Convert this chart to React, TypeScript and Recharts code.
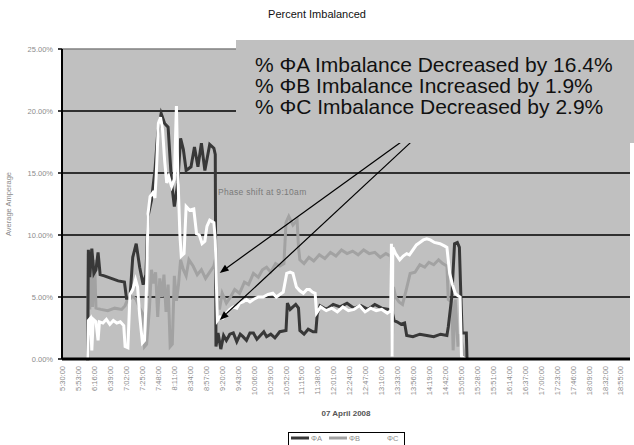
import { CartesianGrid, Line, LineChart, ReferenceLine, XAxis, YAxis } from 'recharts'

// x = minutes after midnight, y = percent imbalance
const tickLabels = [
  '5:30:00', '5:53:00', '6:16:00', '6:39:00', '7:02:00', '7:25:00', '7:48:00', '8:11:00', '8:34:00',
  '8:57:00', '9:20:00', '9:43:00', '10:06:00', '10:29:00', '10:52:00', '11:15:00', '11:38:00', '12:01:00',
  '12:24:00', '12:47:00', '13:10:00', '13:33:00', '13:56:00', '14:19:00', '14:42:00', '15:05:00', '15:28:00',
  '15:51:00', '16:14:00', '16:37:00', '17:00:00', '17:23:00', '17:46:00', '18:09:00', '18:32:00', '18:55:00',
]
const yTicks = [0, 5, 10, 15, 20, 25]
const gridValues = [5, 10, 15, 20]

const phaseA: [number, number][] = [
  [364, 0], [366, 0], [367, 8.8], [369, 6.6], [372, 8.9], [375, 6.9], [378, 7.2], [381, 8.6], [384, 6.8],
  [390, 6.7], [400, 6.5], [410, 6.3], [419, 6.2], [422, 4.9], [427, 4.9], [431, 8.2], [436, 9.3], [441, 7.4],
  [446, 6.0], [450, 6.8], [453, 11.5], [458, 12.8], [463, 15.2], [467, 18.2], [472, 19.8], [477, 19.0],
  [482, 18.7], [487, 14.2], [491, 12.3], [496, 14.2], [500, 17.8], [504, 16.9], [508, 15.2], [515, 15.5],
  [520, 17.1], [525, 15.5], [530, 17.4], [535, 15.2], [542, 17.3], [548, 17.0], [550, 16.5], [551, 1.0],
  [554, 2.1], [558, 0.8], [562, 1.9], [566, 1.5], [571, 2.0], [576, 2.1], [581, 1.4], [586, 2.0], [590, 1.8],
  [595, 1.5], [600, 2.1], [605, 2.1], [610, 1.6], [615, 1.9], [620, 2.2], [624, 1.8], [630, 2.0], [636, 1.7],
  [643, 2.2], [652, 2.3], [654, 4.5], [658, 4.0], [662, 4.2], [666, 4.4], [670, 4.1], [672, 2.3], [678, 2.0],
  [684, 2.4], [691, 2.2], [695, 2.2], [697, 3.6], [701, 4.3], [710, 4.0], [720, 4.4], [730, 4.2], [740, 4.5],
  [750, 4.1], [760, 4.3], [770, 4.0], [780, 4.4], [790, 4.1], [800, 4.0], [805, 3.8], [808, 3.1], [812, 3.0],
  [818, 2.8], [823, 2.9], [826, 1.9], [835, 1.8], [845, 2.0], [855, 1.9], [865, 1.8], [875, 2.0], [884, 1.9],
  [886, 2.6], [891, 5.0], [895, 9.3], [899, 9.4], [902, 9.0], [904, 5.3], [906, 2.1], [912, 2.1], [913, 0],
]

const phaseB: [number, number][] = [
  [364, 0], [366, 0], [367, 8.5], [369, 4.0], [371, 8.8], [373, 4.2], [376, 8.0], [378, 4.1], [385, 4.0],
  [395, 3.9], [405, 4.1], [415, 4.0], [420, 4.3], [425, 5.0], [432, 5.0], [436, 4.8], [440, 4.2], [445, 3.7],
  [448, 1.0], [451, 1.2], [455, 4.0], [458, 7.2], [461, 6.1], [464, 7.0], [467, 3.4], [470, 6.5], [473, 5.0],
  [476, 6.8], [479, 3.8], [482, 6.0], [485, 1.0], [488, 1.2], [491, 6.7], [494, 4.7], [497, 6.0], [500, 8.0],
  [504, 7.2], [508, 6.7], [512, 8.0], [518, 7.5], [524, 6.8], [530, 7.2], [536, 6.5], [542, 7.0], [548, 7.5],
  [550, 8.0], [552, 5.0], [556, 4.0], [560, 5.3], [566, 4.5], [572, 5.0], [578, 5.6], [585, 5.3], [592, 6.2],
  [598, 6.0], [605, 6.9], [612, 6.6], [618, 7.2], [624, 7.4], [630, 7.0], [637, 7.7], [643, 7.5], [649, 7.7],
  [652, 11.0], [656, 11.5], [662, 10.8], [668, 11.2], [670, 9.0], [672, 8.0], [678, 7.7], [685, 8.2],
  [692, 7.9], [700, 8.4], [708, 8.1], [716, 8.6], [724, 8.3], [732, 8.8], [740, 8.5], [748, 8.7], [756, 8.4],
  [764, 8.8], [772, 8.5], [780, 8.6], [788, 8.2], [796, 8.5], [803, 8.3], [805, 0.3], [807, 5.8], [810, 5.0],
  [815, 4.6], [820, 4.4], [825, 5.5], [831, 6.9], [838, 7.0], [845, 7.6], [852, 7.4], [858, 7.8], [865, 7.6],
  [872, 8.0], [878, 7.7], [884, 7.5], [886, 4.8], [891, 4.6], [893, 0.7], [896, 4.8], [900, 1.0], [903, 2.0],
  [908, 0.6], [910, 0],
]

const phaseC: [number, number][] = [
  [364, 0], [366, 0], [367, 3.1], [370, 3.3], [372, 0.7], [374, 3.2], [378, 3.0], [381, 1.5], [383, 3.0],
  [388, 2.9], [393, 3.2], [398, 2.8], [403, 3.1], [408, 2.9], [413, 3.0], [418, 2.7], [420, 1.0], [424, 0.9],
  [427, 5.2], [431, 5.6], [435, 6.4], [438, 5.8], [441, 3.5], [445, 1.3], [448, 1.5], [451, 6.0], [453, 11.7],
  [456, 13.1], [460, 13.4], [463, 13.0], [465, 15.0], [468, 19.0], [471, 19.5], [474, 18.5], [477, 16.0],
  [480, 14.2], [483, 14.7], [487, 13.9], [491, 14.5], [494, 20.4], [496, 15.0], [499, 10.0], [501, 8.3],
  [505, 8.5], [508, 12.3], [513, 12.0], [519, 12.1], [523, 10.1], [527, 10.0], [531, 9.3], [535, 9.5],
  [538, 10.7], [542, 11.2], [548, 11.0], [550, 9.6], [551, 7.4], [553, 3.1], [557, 3.4], [561, 3.3],
  [566, 3.7], [571, 4.0], [576, 4.2], [581, 4.1], [585, 4.5], [590, 4.6], [595, 4.8], [600, 4.6], [605, 4.8],
  [612, 5.0], [619, 5.0], [626, 5.2], [633, 5.3], [638, 5.0], [643, 5.2], [648, 5.4], [653, 6.9], [658, 7.0],
  [662, 6.9], [667, 5.8], [672, 5.5], [677, 5.3], [682, 5.6], [686, 5.6], [690, 5.4], [694, 5.3], [696, 3.7],
  [702, 4.2], [710, 3.9], [718, 4.1], [726, 3.8], [734, 4.2], [742, 3.9], [750, 4.0], [758, 4.3], [766, 3.8],
  [774, 4.1], [782, 3.9], [790, 4.0], [798, 3.7], [803, 3.9], [804, 9.3], [805, 0.2], [806, 9.0], [810, 8.5],
  [816, 8.0], [821, 8.3], [826, 8.5], [830, 8.4], [835, 8.8], [840, 9.2], [845, 9.4], [850, 9.6], [855, 9.7],
  [860, 9.6], [866, 9.4], [874, 9.3], [881, 9.1], [884, 9.0], [888, 6.9], [892, 6.0], [896, 5.3], [900, 5.1],
  [903, 5.0], [905, 0.2], [910, 0],
]

const annotationLines = [
  '% ΦA Imbalance Decreased by 16.4%',
  '% ΦB Imbalance Increased by 1.9%',
  '% ΦC Imbalance Decreased by 2.9%',
]

// arrows run from under the text box down to the 9:10 drop
const arrows = [
  { from: { x: 843, y: 18.5 }, to: { x: 556.4, y: 6.94 } },
  { from: { x: 851.6, y: 18.5 }, to: { x: 556.4, y: 3.15 } },
]

const toMinutes = (label: string) => {
  const [h, m] = label.split(':').map(Number)
  return h * 60 + m
}
const tickMinutes = tickLabels.map(toMinutes)

const series = [
  { name: 'ΦB', data: phaseB, color: '#a2a2a2' },
  { name: 'ΦA', data: phaseA, color: '#383838' },
  { name: 'ΦC', data: phaseC, color: '#ffffff' },
]
const legendOrder = ['ΦA', 'ΦB', 'ΦC']

const font = 'Arial, "Liberation Sans", sans-serif'

function TimeTick({ x, y, payload }: any) {
  const label = tickLabels[tickMinutes.indexOf(payload.value)]
  return (
    <text x={x} y={y} dy={2.5} transform={`rotate(-90 ${x} ${y})`} textAnchor="end"
      fontSize={7.5} fill="#8c8c8c" fontFamily={font}>
      {label}
    </text>
  )
}

function Arrow(props: any) {
  const { x1, y1, x2, y2 } = props
  const len = Math.hypot(x2 - x1, y2 - y1)
  const ux = (x2 - x1) / len
  const uy = (y2 - y1) / len
  const bx = x2 - ux * 9
  const by = y2 - uy * 9
  const head = `${x2},${y2} ${bx - uy * 3.5},${by + ux * 3.5} ${bx + uy * 3.5},${by - ux * 3.5}`
  return (
    <g>
      <line x1={x1} y1={y1} x2={bx} y2={by} stroke="#000" strokeWidth={1.2} />
      <polygon points={head} fill="#000" />
    </g>
  )
}

function YTitle({ viewBox }: any) {
  const cx = viewBox.x + 11
  const cy = viewBox.y + viewBox.height / 2
  return (
    <text x={cx} y={cy} transform={`rotate(-90 ${cx} ${cy})`} textAnchor="middle"
      fontSize={7.5} fill="#8c8c8c" fontFamily={font}>
      Average Amperage
    </text>
  )
}

export default function App() {
  return (
    <div style={{ position: 'absolute', left: 0, top: 0, width: 634, height: 445, background: '#fff', fontFamily: font, overflow: 'hidden' }}>
      <LineChart width={634} height={445} margin={{ top: 49, right: 4, bottom: 0, left: 0 }}>
        <CartesianGrid vertical={false} horizontalValues={gridValues} stroke="#000" strokeWidth={1.5} fill="#c0c0c0" />
        <CartesianGrid vertical={false} horizontalValues={[25]} stroke="#808080" strokeWidth={1.5} />
        <XAxis
          type="number"
          dataKey="t"
          domain={[329, 1148]}
          ticks={tickMinutes}
          interval={0}
          tick={<TimeTick />}
          tickLine={false}
          tickSize={5}
          axisLine={{ stroke: '#000', strokeWidth: 3 }}
          height={86}
          allowDataOverflow
        />
        <YAxis
          type="number"
          domain={[0, 25]}
          ticks={yTicks}
          width={62}
          tickSize={4}
          tickMargin={5}
          tickLine={{ stroke: '#000', strokeWidth: 1.5 }}
          axisLine={{ stroke: '#000', strokeWidth: 2 }}
          tick={{ fontSize: 7.5, fill: '#8c8c8c', fontFamily: font }}
          tickFormatter={(v: number) => `${v.toFixed(2)}%`}
          label={<YTitle />}
        />
        {series.map(s => (
          <Line
            key={s.name}
            name={s.name}
            data={s.data.map(([t, v]) => ({ t, v }))}
            dataKey="v"
            type="linear"
            stroke={s.color}
            strokeWidth={3}
            dot={false}
            activeDot={false}
            isAnimationActive={false}
          />
        ))}
        {arrows.map((a, i) => (
          <ReferenceLine key={i} segment={[a.from, a.to]} shape={<Arrow />} ifOverflow="visible" />
        ))}
      </LineChart>

      {/* chart title */}
      <div style={{ position: 'absolute', left: 0, width: 634, top: 8, textAlign: 'center', fontSize: 11, color: '#111' }}>
        Percent Imbalanced
      </div>

      {/* x axis title */}
      <div style={{ position: 'absolute', left: 246, width: 200, top: 409, textAlign: 'center', fontSize: 8, color: '#555', fontWeight: 'bold' }}>
        07 April 2008
      </div>

      <div style={{ position: 'absolute', left: 218, top: 187, fontSize: 8.5, color: '#7a7a7a', letterSpacing: 0.3 }}>
        Phase shift at 9:10am
      </div>

      {/* annotation text box */}
      <div style={{ position: 'absolute', left: 236, top: 40, width: 398, height: 103, background: '#c0c0c0', boxSizing: 'border-box', paddingTop: 14, paddingLeft: 19, fontSize: 21, lineHeight: '21px', color: '#111' }}>
        {annotationLines.map(t => <div key={t} style={{ whiteSpace: 'nowrap' }}>{t}</div>)}
      </div>

      {/* legend */}
      <div style={{ position: 'absolute', left: 288, top: 432, width: 117, height: 22, border: '1.5px solid #000', background: '#fff', boxSizing: 'border-box' }}>
        <svg width={114} height={20}>
          {legendOrder.map((name, i) => {
            const s = series.find(d => d.name === name)!
            const x = 2 + i * 38
            return (
              <g key={name}>
                <line x1={x} x2={x + 18} y1={5} y2={5} stroke={s.color} strokeWidth={3} />
                <text x={x + 20} y={8} fontSize={7.5} fill="#8c8c8c" fontFamily={font}>{name}</text>
              </g>
            )
          })}
        </svg>
      </div>
    </div>
  )
}
